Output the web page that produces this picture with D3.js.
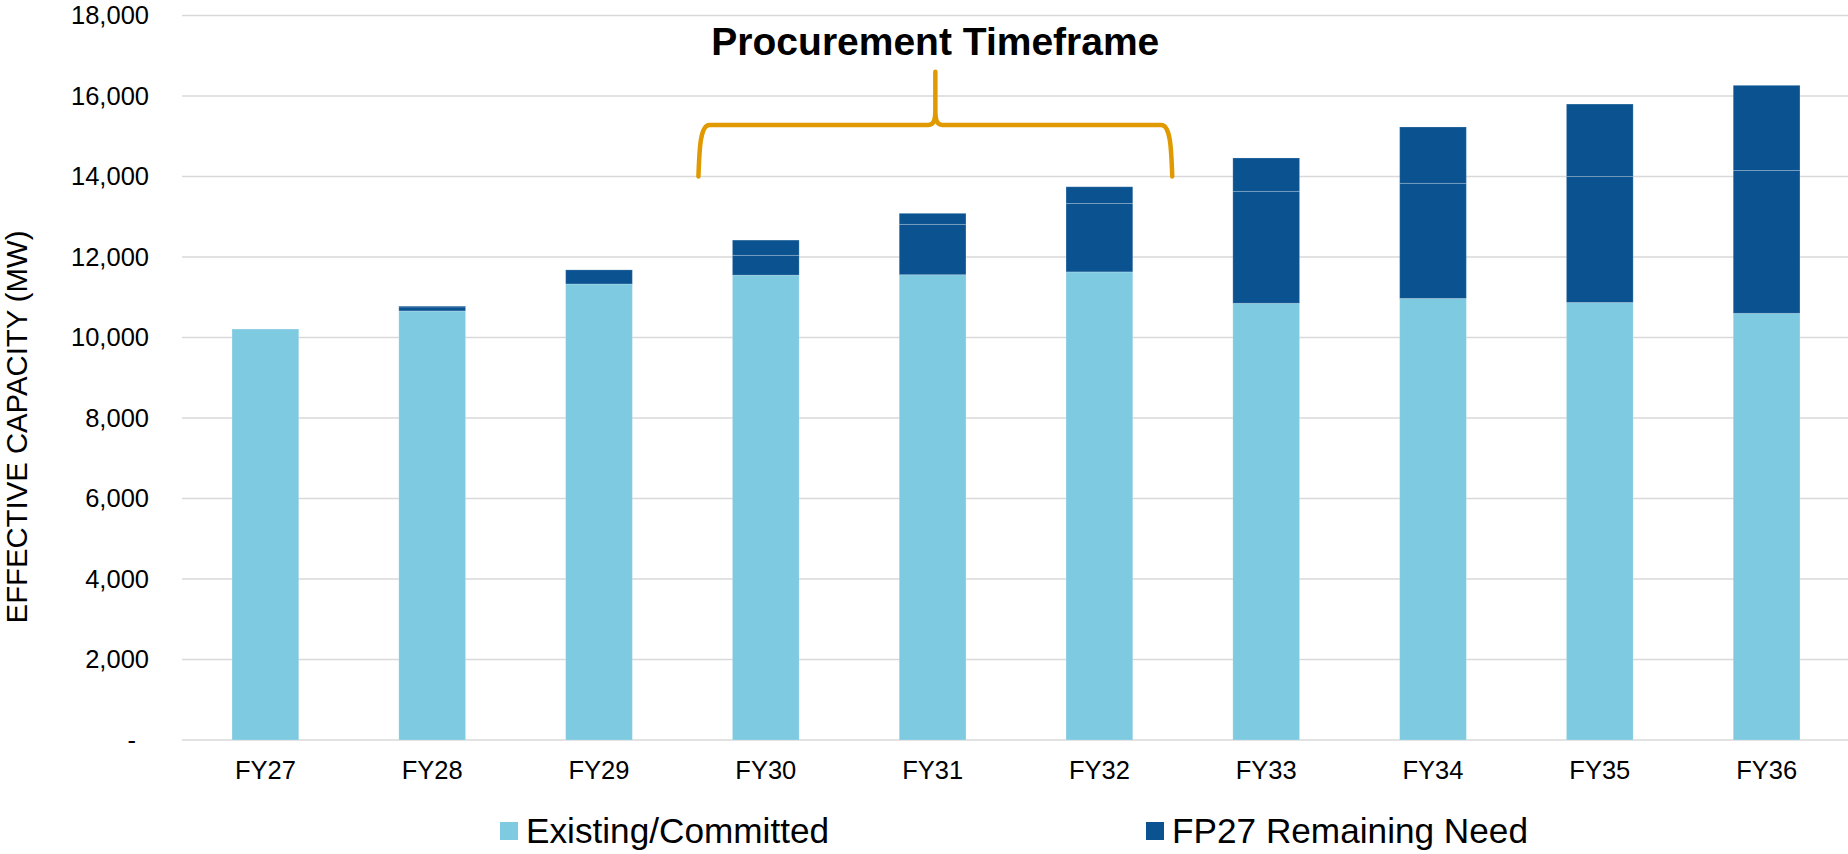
<!DOCTYPE html>
<html>
<head>
<meta charset="utf-8">
<script src="https://cdn.jsdelivr.net/npm/d3@7"></script>
<style>
  html, body { margin: 0; padding: 0; background: #ffffff; }
  svg { display: block; font-family: "Liberation Sans", Arial, sans-serif; }
</style>
</head>
<body>
<svg id="chart" width="1848" height="854"></svg>
<script>
// ---- Data ----
const categories = ["FY27","FY28","FY29","FY30","FY31","FY32","FY33","FY34","FY35","FY36"];
const existingCommitted = [10210, 10660, 11330, 11550, 11560, 11630, 10850, 10970, 10870, 10600];
const remainingNeedLower = [0, 100, 350, 490, 1250, 1700, 2780, 2860, 3130, 3550];
const remainingNeedUpper = [0, 20, 0, 380, 275, 415, 830, 1400, 1800, 2115];
const yTicks = [0, 2000, 4000, 6000, 8000, 10000, 12000, 14000, 16000, 18000];
const legendLabels = ["Existing/Committed", "FP27 Remaining Need"];
const annotationTitle = "Procurement Timeframe";
const bracketFrom = "FY30", bracketTo = "FY32";
const bracketValues = { base: 14000, bar: 15280, tip: 16600 };

const colors = { existing: "#7ECAE1", need: "#0A5390", grid: "#D9D9D9", bracket: "#E09A00" };

// ---- Setup ----
const svg = d3.select("#chart");
const x = d3.scaleBand().domain(categories).range([182, 1850]).paddingInner(0.6).paddingOuter(0.3);
const y = d3.scaleLinear().domain([0, 18000]).range([740, 15.5]);

// gridlines
svg.append("g")
  .selectAll("line").data(yTicks).join("line")
  .attr("x1", 182).attr("x2", 1848)
  .attr("y1", d => y(d)).attr("y2", d => y(d))
  .attr("stroke", colors.grid).attr("stroke-width", 1.5);

// y axis labels
const yAxis = d3.axisLeft(y).tickValues(yTicks)
  .tickFormat(d => d === 0 ? "-" : d3.format(",")(d)).tickSize(0).tickPadding(0);
const yg = svg.append("g").attr("transform", "translate(149,0)").call(yAxis);
yg.select(".domain").remove();
yg.selectAll("text").attr("font-size", 25.5).attr("fill", "#000")
  .attr("font-family", "'Liberation Sans', Arial, sans-serif")
  .attr("dx", d => d === 0 ? -13 : 0);

// x axis labels
const xAxis = d3.axisBottom(x).tickSize(0).tickPadding(0);
const xg = svg.append("g").attr("transform", "translate(0,761)").call(xAxis);
xg.select(".domain").remove();
xg.selectAll("text").attr("font-size", 25.5).attr("fill", "#000")
  .attr("font-family", "'Liberation Sans', Arial, sans-serif").attr("dy", "0.71em");

// y axis title
svg.append("text")
  .attr("transform", "translate(27,427) rotate(-90)")
  .attr("text-anchor", "middle")
  .attr("font-size", 29.3).attr("fill", "#000")
  .text("EFFECTIVE CAPACITY (MW)");

// stacked bars
const rows = categories.map((c, i) => ({ cat: c, existing: existingCommitted[i], lower: remainingNeedLower[i], upper: remainingNeedUpper[i] }));
const keys = ["existing", "lower", "upper"];
const keyColor = { existing: colors.existing, lower: colors.need, upper: colors.need };
const stacked = d3.stack().keys(keys)(rows);

svg.append("g").selectAll("g").data(stacked).join("g")
  .attr("fill", s => keyColor[s.key])
  .selectAll("rect").data(s => s.filter(d => d[1] - d[0] > 0)).join("rect")
  .attr("x", d => x(d.data.cat))
  .attr("width", x.bandwidth())
  .attr("y", d => y(d[1]))
  .attr("height", d => y(d[0]) - y(d[1]))
  .attr("stroke", "rgba(255,255,255,0.2)")
  .attr("stroke-width", 1);

// bracket annotation
const bx0 = x(bracketFrom) - 34;
const bx1 = x(bracketTo) + x.bandwidth() + 39.5;
const bxm = (bx0 + bx1) / 2;
const yb = y(bracketValues.base), yh = y(bracketValues.bar), yt = y(bracketValues.tip);
const path = `M${bx0},${yb}
  C${bx0 + 1},${yh + 22} ${bx0 + 2},${yh} ${bx0 + 11},${yh}
  L${bxm - 7},${yh}
  C${bxm - 1},${yh} ${bxm},${yh - 6} ${bxm},${yh - 16}
  L${bxm},${yt}
  M${bxm},${yh - 16}
  C${bxm},${yh - 6} ${bxm + 1},${yh} ${bxm + 7},${yh}
  L${bx1 - 11},${yh}
  C${bx1 - 2},${yh} ${bx1 - 1},${yh + 22} ${bx1},${yb}`;
svg.append("path").attr("d", path).attr("fill", "none")
  .attr("stroke", colors.bracket).attr("stroke-width", 4.5).attr("stroke-linecap", "round").attr("stroke-linejoin", "round");

svg.append("text")
  .attr("x", bxm).attr("y", 55)
  .attr("text-anchor", "middle")
  .attr("font-size", 39).attr("font-weight", "bold").attr("fill", "#000")
  .text(annotationTitle);

// legend
const legendItems = [
  { label: legendLabels[0], color: colors.existing, x: 500 },
  { label: legendLabels[1], color: colors.need, x: 1146 }
];
const lg = svg.append("g").selectAll("g").data(legendItems).join("g")
  .attr("transform", d => `translate(${d.x},0)`);
lg.append("rect").attr("x", 0).attr("y", 822).attr("width", 18).attr("height", 18).attr("fill", d => d.color);
lg.append("text").attr("x", 26).attr("y", 843).attr("font-size", 35.2).attr("fill", "#000").text(d => d.label);
</script>
</body>
</html>
